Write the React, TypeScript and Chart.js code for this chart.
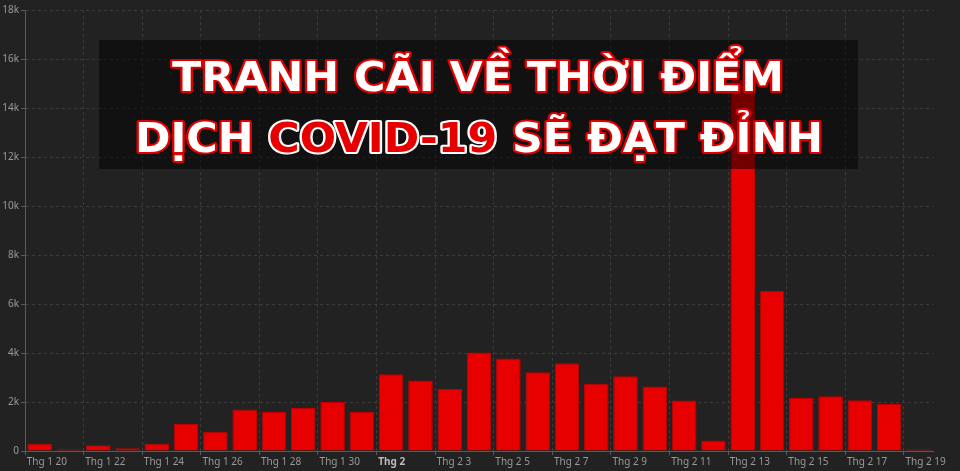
import React, { useEffect, useRef } from "react";
import { Chart, registerables } from "chart.js";

Chart.register(...registerables);

const categories: string[] = [
  "Thg 1 20", "Thg 1 21", "Thg 1 22", "Thg 1 23", "Thg 1 24", "Thg 1 25", "Thg 1 26", "Thg 1 27",
  "Thg 1 28", "Thg 1 29", "Thg 1 30", "Thg 1 31", "Thg 2", "Thg 2 2", "Thg 2 3", "Thg 2 4",
  "Thg 2 5", "Thg 2 6", "Thg 2 7", "Thg 2 8", "Thg 2 9", "Thg 2 10", "Thg 2 11", "Thg 2 12",
  "Thg 2 13", "Thg 2 14", "Thg 2 15", "Thg 2 16", "Thg 2 17", "Thg 2 18", "Thg 2 19",
];

const newCases: number[] = [
  300, 70, 230, 110, 300, 1100, 790, 1690,
  1590, 1755, 2000, 1590, 3130, 2875, 2530, 4020,
  3775, 3215, 3580, 2750, 3050, 2630, 2060, 425,
  15150, 6535, 2165, 2235, 2070, 1920, 70,
];

const yTicks: number[] = [0, 2000, 4000, 6000, 8000, 10000, 12000, 14000, 16000, 18000];

const titleLines: { text: string; red: boolean }[][] = [
  [{ text: "TRANH CÃI VỀ THỜI ĐIỂM", red: false }],
  [
    { text: "DỊCH ", red: false },
    { text: "COVID-19", red: true },
    { text: " SẼ ĐẠT ĐỈNH", red: false },
  ],
];

const titlePlugin = {
  id: "titleBox",
  afterDraw(chart: any) {
    const ctx = chart.ctx as CanvasRenderingContext2D;
    ctx.save();
    ctx.fillStyle = "rgba(0,0,0,0.5)";
    ctx.fillRect(99, 40, 759, 129);
    const font = 'bold 40px "DejaVu Sans Condensed", "DejaVu Sans", sans-serif';
    ctx.font = font;
    ctx.textBaseline = "alphabetic";
    ctx.textAlign = "left";
    ctx.lineJoin = "round";
    const specs = [
      { left: 172, right: 784, baseline: 91 },
      { left: 135, right: 823, baseline: 151.5 },
    ];
    titleLines.forEach((segs, li) => {
      const full = segs.map((s) => s.text).join("");
      const w = ctx.measureText(full).width;
      const sp = specs[li];
      const sx = (sp.right - sp.left) / w;
      ctx.save();
      ctx.translate(sp.left, sp.baseline);
      ctx.scale(sx, 1);
      let x = 0;
      segs.forEach((s) => {
        ctx.lineWidth = 4;
        ctx.strokeStyle = s.red ? "#ffffff" : "#e00000";
        ctx.strokeText(s.text, x, 0);
        ctx.fillStyle = s.red ? "#e80000" : "#ffffff";
        ctx.fillText(s.text, x, 0);
        x += ctx.measureText(s.text).width;
      });
      ctx.restore();
    });
    ctx.restore();
  },
};

export default function App() {
  const ref = useRef<HTMLCanvasElement | null>(null);
  useEffect(() => {
    document.body.style.margin = "0";
    document.body.style.background = "#222222";
    if (!ref.current) return;
    const gridCol = "#3c3c3c";
    const chart = new Chart(ref.current, {
      type: "bar",
      data: {
        labels: categories,
        datasets: [
          {
            data: newCases,
            backgroundColor: "#e60000",
            borderColor: "#c00000",
            borderWidth: 1,
            barPercentage: 0.84,
            categoryPercentage: 1,
          },
        ],
      },
      options: {
        animation: false,
        responsive: false,
        maintainAspectRatio: false,
        layout: { padding: { top: 10, right: 15, left: 0, bottom: 0 } },
        plugins: { legend: { display: false }, tooltip: { enabled: false }, title: { display: false } },
        scales: {
          x: {
            offset: true,
            afterFit: (s: any) => { s.height = 20; },
            border: { color: "#5a5a5a", width: 1, dash: [3, 3] },
            grid: {
              offset: true,
              color: (c: any) => (c.index % 2 === 0 ? gridCol : "transparent"),
              tickColor: (c: any) => (c.index % 2 === 0 ? "#5a5a5a" : "transparent"),
              tickBorderDash: [],
              tickLength: 4,
              drawOnChartArea: true,
            },
            ticks: {
              autoSkip: false,
              maxRotation: 0,
              minRotation: 0,
              align: "start",
              labelOffset: -13,
              padding: 1,
              color: (c: any) => (c.tick && c.tick.label === "Thg 2" ? "#bbbbbb" : "#9a9a9a"),
              font: (c: any) =>
                c.tick && c.tick.label === "Thg 2"
                  ? { family: "'Noto Sans', sans-serif", size: 10, weight: "bold" }
                  : { family: "'Noto Sans', sans-serif", size: 10 },
              callback: (_v: any, i: number) => (i % 2 === 0 ? categories[i] : ""),
            },
          },
          y: {
            min: 0,
            max: 18000,
            afterFit: (s: any) => { s.width = 25; },
            afterBuildTicks: (s: any) => { s.ticks = yTicks.map((v) => ({ value: v })); },
            border: { color: "#5a5a5a", width: 1, dash: [3, 3] },
            grid: {
              color: gridCol,
              tickColor: "#5a5a5a",
              tickBorderDash: [],
              tickLength: 4,
            },
            ticks: {
              padding: 2,
              color: "#9a9a9a",
              font: { family: "'Noto Sans', sans-serif", size: 10 },
              callback: (v: any) => (v === 0 ? "0" : `${v / 1000}k`),
            },
          },
        },
      },
      plugins: [titlePlugin],
    } as any);
    return () => chart.destroy();
  }, []);
  return (
    <div style={{ position: "fixed", left: 0, top: 0, width: 960, height: 471, background: "#222222" }}>
      <canvas ref={ref} width={960} height={471} style={{ width: 960, height: 471, display: "block" }} />
    </div>
  );
}
